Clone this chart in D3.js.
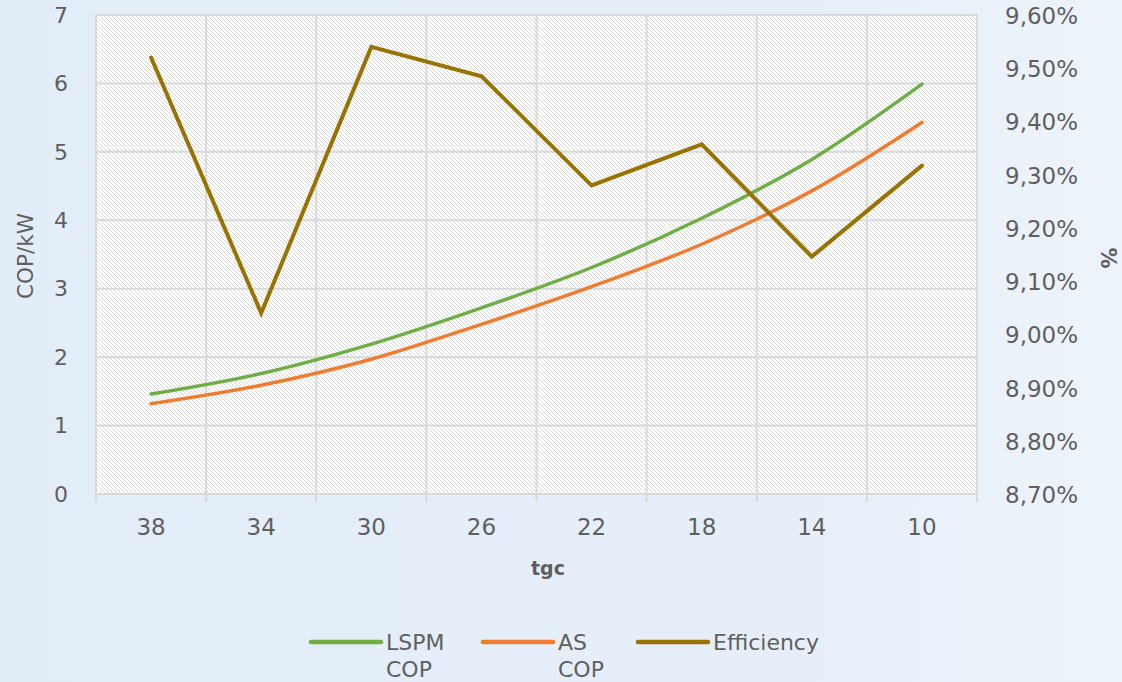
<!DOCTYPE html>
<html><head><meta charset="utf-8">
<script src="https://cdn.jsdelivr.net/npm/d3@7"></script>
<style>
html,body{margin:0;padding:0;}
body{width:1122px;height:682px;overflow:hidden;}
text{font-family:"DejaVu Sans","Open Sans",sans-serif;fill:#5f5f5f;}
</style></head>
<body>
<svg id="chart" width="1122" height="682"></svg>
<script>
const categories = ["38","34","30","26","22","18","14","10"];
const lspmCOP = [1.46, 1.76, 2.19, 2.72, 3.31, 4.03, 4.89, 5.99];
const asCOP = [1.32, 1.59, 1.97, 2.48, 3.03, 3.65, 4.43, 5.43];
const efficiency = [9.52, 9.04, 9.54, 9.485, 9.28, 9.357, 9.146, 9.317];
const leftTicks = [0,1,2,3,4,5,6,7];
const rightTicks = [8.7,8.8,8.9,9.0,9.1,9.2,9.3,9.4,9.5,9.6];
const seriesNames = ["LSPM COP","AS COP","Efficiency"];
const seriesColors = ["#70ad47","#ed7d31","#997300"];

const svg = d3.select("#chart");
const W = 1122, H = 682;
const m = {left:96, right:977, top:15, bottom:494};

const defs = svg.append("defs");
const bg = defs.append("linearGradient").attr("id","bg").attr("x1","0").attr("x2","1").attr("y1","0").attr("y2","0");
bg.append("stop").attr("offset","0").attr("stop-color","#e3edf8");
bg.append("stop").attr("offset","0.7").attr("stop-color","#e6eff9");
bg.append("stop").attr("offset","1").attr("stop-color","#edf3fa");
const pat = defs.append("pattern").attr("id","hatch").attr("patternUnits","userSpaceOnUse")
  .attr("width",4).attr("height",4);
pat.append("rect").attr("width",4).attr("height",4).attr("fill","#ffffff");
pat.append("path").attr("d","M-1,-1 L5,5 M-1,3 L1,5 M3,-1 L5,1").attr("stroke","#d8d8d8").attr("stroke-width",1);

svg.append("rect").attr("width",W).attr("height",H).attr("fill","url(#bg)");

const x = d3.scaleBand().domain(categories).range([m.left,m.right]).padding(0);
const yL = d3.scaleLinear().domain([0,7]).range([m.bottom,m.top]);
const yR = d3.scaleLinear().domain([8.7,9.6]).range([m.bottom,m.top]);

svg.append("rect").attr("x",m.left).attr("y",m.top).attr("width",m.right-m.left).attr("height",m.bottom-m.top).attr("fill","url(#hatch)");

// gridlines
const grid = svg.append("g").attr("stroke","#d9d9d9").attr("stroke-width",2);
leftTicks.forEach(t=>{
  grid.append("line").attr("x1",m.left).attr("x2",m.right).attr("y1",yL(t)).attr("y2",yL(t));
});
const bounds = categories.map(c=>x(c)).concat([m.right]);
bounds.forEach(b=>{
  grid.append("line").attr("x1",b).attr("x2",b).attr("y1",m.top).attr("y2",m.bottom+8);
});

// left axis labels
svg.append("g").selectAll("text").data(leftTicks).join("text")
  .attr("x",68).attr("y",d=>yL(d)).attr("dy","0.35em").attr("text-anchor","end")
  .attr("font-size",22).text(d=>d);
// right axis labels
const fmt = d=>d.toFixed(2).replace(".",",")+"%";
svg.append("g").selectAll("text").data(rightTicks).join("text")
  .attr("x",1005).attr("y",d=>yR(d)+1).attr("dy","0.35em").attr("text-anchor","start")
  .attr("font-size",23).text(fmt);
// x labels
svg.append("g").selectAll("text").data(categories).join("text")
  .attr("x",d=>x(d)+x.bandwidth()/2).attr("y",527).attr("dy","0.35em").attr("text-anchor","middle")
  .attr("font-size",23).text(d=>d);

// axis titles
svg.append("text").attr("x",548).attr("y",568).attr("dy","0.35em").attr("text-anchor","middle")
  .attr("font-size",19).attr("font-weight","bold").text("tgc");
svg.append("text").attr("transform","translate(25,256) rotate(-90)").attr("dy","0.35em").attr("text-anchor","middle")
  .attr("font-size",21.5).text("COP/kW");
svg.append("text").attr("transform","translate(1108,258) rotate(90)").attr("dy","0.35em").attr("text-anchor","middle")
  .attr("font-size",21).attr("font-weight","bold").text("%");

// lines
const cx = d=>x(d)+x.bandwidth()/2;
const smooth = d3.line().x((d,i)=>cx(categories[i])).y(d=>yL(d)).curve(d3.curveCatmullRom.alpha(0.5));
const straightR = d3.line().x((d,i)=>cx(categories[i])).y(d=>yR(d));
svg.append("path").attr("d",smooth(lspmCOP)).attr("fill","none").attr("stroke",seriesColors[0]).attr("stroke-width",3.5).attr("stroke-linecap","round");
svg.append("path").attr("d",smooth(asCOP)).attr("fill","none").attr("stroke",seriesColors[1]).attr("stroke-width",3.5).attr("stroke-linecap","round");
svg.append("path").attr("d",straightR(efficiency)).attr("fill","none").attr("stroke",seriesColors[2]).attr("stroke-width",4).attr("stroke-linecap","round").attr("stroke-linejoin","miter");

// legend
const legendX = [311, 483, 638];
const lg = svg.append("g");
seriesNames.forEach((name,i)=>{
  lg.append("line").attr("x1",legendX[i]).attr("x2",legendX[i]+70).attr("y1",642).attr("y2",642)
    .attr("stroke",seriesColors[i]).attr("stroke-width",4.5).attr("stroke-linecap","round");
  const parts = name==="Efficiency" ? [name] : name.split(" ");
  parts.forEach((p,j)=>{
    lg.append("text").attr("x",legendX[i]+75).attr("y",642+j*27).attr("dy","0.35em")
      .attr("font-size",22).text(p);
  });
});
</script>
</body></html>
